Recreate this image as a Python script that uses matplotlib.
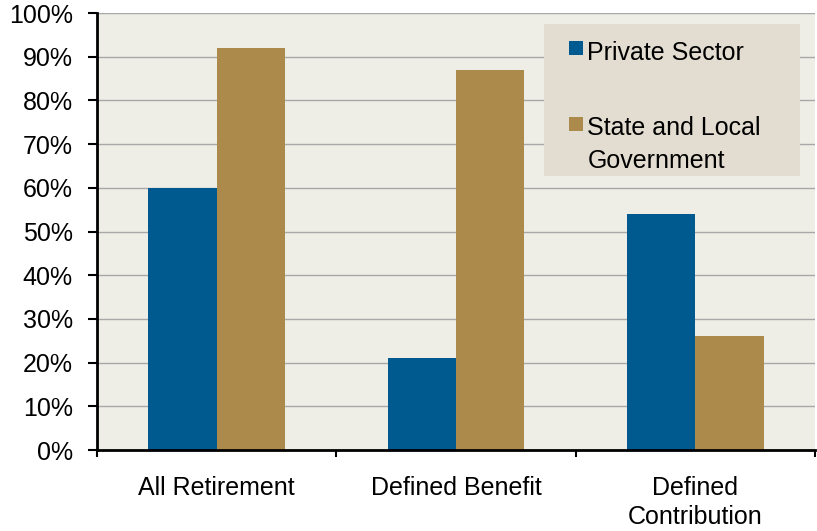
import matplotlib
matplotlib.use( 'Agg' )
import matplotlib.pyplot as plt
from matplotlib.patches import Rectangle
from matplotlib.ticker import FuncFormatter
import numpy as np

plt.rcParams[ 'font.family' ] = [ 'Liberation Sans', 'DejaVu Sans' ]

categories = [ 'All Retirement', 'Defined Benefit', 'Defined\nContribution' ]
private    = [ 60, 21, 54 ]
state      = [ 92, 87, 26 ]
series     = [ 'Private Sector', 'State and Local\nGovernment' ]

blue  = '#00598F'
gold  = '#AB8A4B'
fs    = 18

fig = plt.figure( figsize = ( 8.17, 5.31 ), dpi = 100 )
ax = fig.add_axes( [ 0.1187, 0.1525, 0.8789, 0.823 ] )
ax.set_facecolor( '#EEEDE6' )

x = np.arange( len( categories ) )
w = 0.286
ax.bar( x - w / 2, private, w, color = blue, zorder = 3 )
ax.bar( x + w / 2, state, w, color = gold, zorder = 3 )

ax.set_xlim( -0.5, 2.5 )
ax.set_ylim( 0, 100 )
ax.set_yticks( np.arange( 0, 101, 10 ) )
ax.yaxis.set_major_formatter( FuncFormatter( lambda v, p : '{:d}%'.format( int( v ) ) ) )
ax.yaxis.grid( True, color = '#A8A8A8', linewidth = 1.0, zorder = 0 )
ax.tick_params( axis = 'y', labelsize = fs, length = 6.5, width = 1.5, pad = 11 )

# boundaries get ticks, centres get the labels
ax.set_xticks( [ -0.5, 0.5, 1.5, 2.5 ] )
ax.set_xticklabels( [] )
ax.set_xticks( x, minor = True )
ax.set_xticklabels( categories, minor = True, fontsize = fs, va = 'top', linespacing = 1.25 )
ax.tick_params( axis = 'x', which = 'major', length = 5, width = 1.5, direction = 'out' )
ax.tick_params( axis = 'x', which = 'minor', length = 0, pad = 19 )

for s in [ 'top', 'right' ] :
    ax.spines[ s ].set_visible( False )
for s in [ 'left', 'bottom' ] :
    ax.spines[ s ].set_linewidth( 2 )
    ax.spines[ s ].set_zorder( 4 )

# legend box drawn by hand (axes fractions)
ax.add_patch( Rectangle( ( 0.6226, 0.627 ), 0.3564, 0.348, transform = ax.transAxes,
                         facecolor = '#E2DDD0', edgecolor = 'none', zorder = 5 ) )
sq_w, sq_h = 0.0195, 0.032
sq_y     = [ 0.904, 0.730 ]
baseline = [ 0.892, 0.7208 ]
for col, lab, sy, by in zip( [ blue, gold ], series, sq_y, baseline ) :
    ax.add_patch( Rectangle( ( 0.6574, sy ), sq_w, sq_h, transform = ax.transAxes,
                             facecolor = col, edgecolor = 'none', zorder = 6 ) )
    for i, line in enumerate( lab.split( '\n' ) ) :
        ax.text( 0.683, by - i * 0.0755, line, transform = ax.transAxes, fontsize = fs,
                 va = 'baseline', ha = 'left', zorder = 7 )

fig.savefig( 'out.png', dpi = 100 )
